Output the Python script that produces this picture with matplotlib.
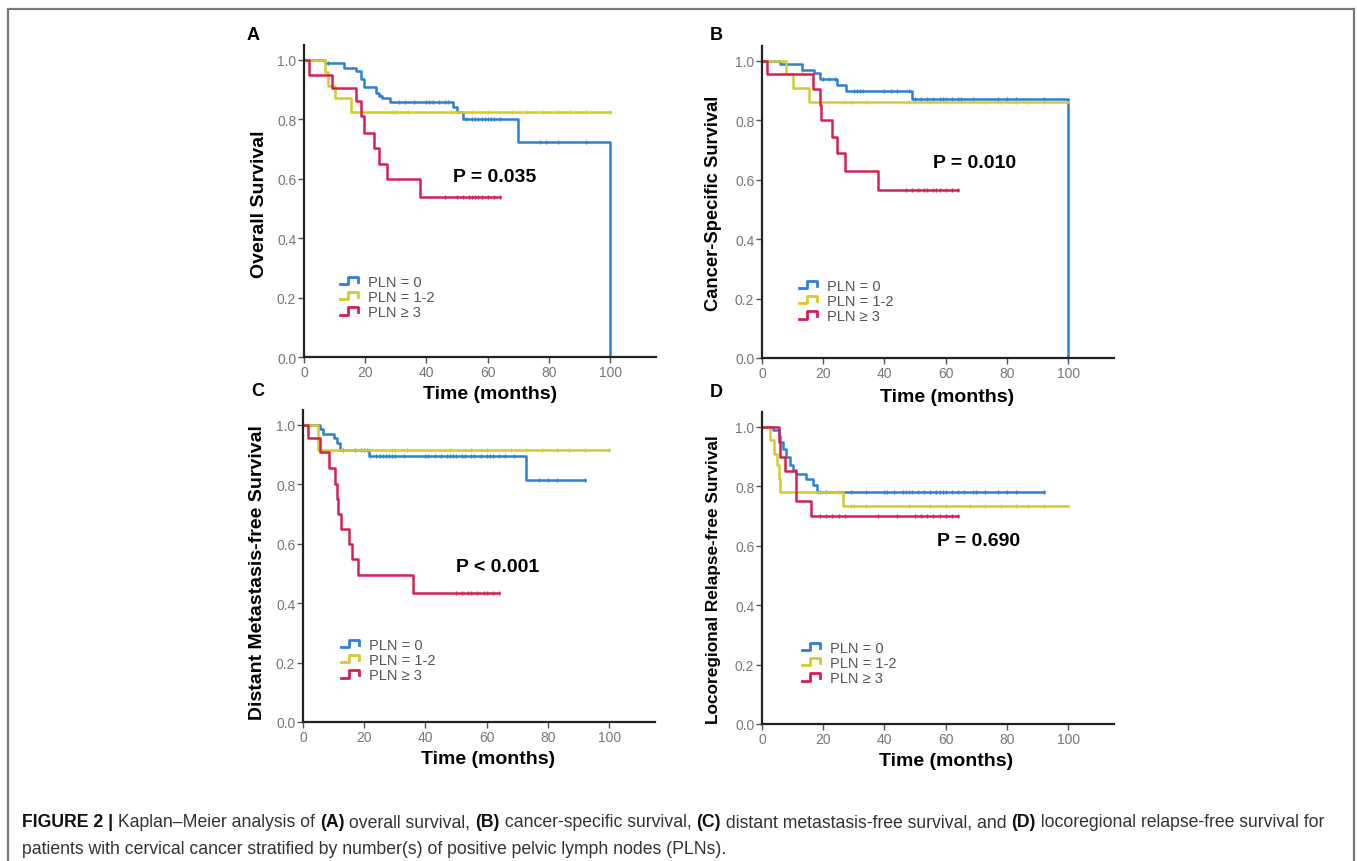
import numpy as np
import matplotlib
matplotlib.use("Agg")
import matplotlib.pyplot as plt
from matplotlib.legend_handler import HandlerBase
from matplotlib.lines import Line2D
from matplotlib.patches import Rectangle

W, H = 1357, 862

# ---------------- DATA ----------------
groups = ["PLN = 0", "PLN = 1-2", "PLN \u2265 3"]
colors = ["#2f7fd3", "#d3cc2c", "#d81f52"]

# Panel A - overall survival
A_t = [[0, 7, 13, 17, 18.5, 19.5, 23.5, 24.6, 25.4, 28, 48.8, 50, 52, 70, 100],
       [0, 7, 8, 10, 15.5, 100],
       [0, 1.5, 9, 17, 18.5, 19.5, 23, 24.5, 27, 38, 64]]
A_s = [[1, .989, .972, .963, .935, .907, .89, .88, .87, .857, .84, .825, .80, .725, 0],
       [1, .96, .913, .87, .825, .825],
       [1, .95, .905, .86, .81, .755, .705, .65, .60, .54, .54]]
A_c = [[8, 25, 31, 33, 36, 40, 41, 42, 44, 46, 47, 53, 55, 56, 57, 58, 59, 60, 61, 62, 64, 77, 79, 83, 92],
       [29, 30, 34, 48, 55, 60, 68, 73, 78, 83, 87, 92, 100],
       [46, 50, 52, 54, 55, 56, 57, 58, 60, 62, 64]]

# Panel B - cancer-specific survival
B_t = [[0, 6, 13, 17, 19, 24.5, 27.5, 49, 100],
       [0, 8, 10, 15.5, 100],
       [0, 1.5, 16.5, 18.8, 19.3, 23, 24.5, 27, 38, 64]]
B_s = [[1, .99, .97, .96, .94, .92, .90, .87, 0],
       [1, .955, .91, .86, .86],
       [1, .955, .905, .85, .80, .745, .69, .63, .565, .565]]
B_c = [[8, 13, 20, 22, 24, 30, 31, 32, 33, 40, 42, 44, 48, 50, 52, 54, 56, 58, 59, 60, 62, 64, 65, 69, 77, 80, 83, 92],
       [27, 29, 34, 48, 55, 60, 69, 73, 78, 83, 87, 92],
       [47, 49, 51, 53, 54, 56, 57, 58, 60, 62, 64]]

# Panel C - distant metastasis-free survival
C_t = [[0, 5.5, 6.5, 10, 11, 12, 21.5, 73, 92],
       [0, 5, 100],
       [0, 1.5, 5.5, 8.5, 10.5, 11, 11.5, 12.5, 15, 16, 18, 36, 64]]
C_s = [[1, .985, .97, .955, .94, .915, .895, .815, .815],
       [1, .915, .915],
       [1, .955, .91, .855, .80, .75, .70, .65, .60, .55, .495, .435, .435]]
C_c = [[13, 17, 19, 20, 21, 22, 24, 25, 26, 27, 28, 29, 30, 33, 40, 41, 43, 45, 47, 48, 49, 50, 52, 53,
        55, 56, 58, 60, 61, 62, 64, 66, 69, 77, 80, 83, 92],
       [29, 30, 34, 48, 55, 60, 68, 73, 78, 83, 87, 92, 100],
       [50, 52, 54, 55, 57, 59, 60, 62, 64]]

# Panel D - locoregional relapse-free survival
D_t = [[0, 3.5, 5.5, 6, 7, 8, 9, 10, 11, 14.5, 16.5, 18, 92],
       [0, 2.5, 4, 5, 5.5, 6, 26.5, 100],
       [0, 5.5, 6, 7.5, 11, 16, 64]]
D_s = [[1, .99, .97, .95, .925, .90, .87, .855, .84, .825, .805, .78, .78],
       [1, .955, .91, .87, .825, .78, .735, .735],
       [1, .95, .90, .85, .75, .70, .70]]
D_c = [[19, 21, 29, 34, 40, 41, 43, 46, 47, 48, 49, 51, 53, 55, 57, 58, 59, 60, 62, 64, 66, 69, 70, 73,
        77, 80, 83, 92],
       [25, 29, 30, 34, 48, 55, 60, 68, 73, 78, 83, 87, 92],
       [19, 21, 23, 25, 27, 38, 44, 50, 52, 54, 56, 58, 60, 62, 64]]

letters = ["A", "B", "C", "D"]
ylabels = ["Overall Survival", "Cancer-Specific Survival",
           "Distant Metastasis-free Survival", "Locoregional Relapse-free Survival"]
pvals = ["P = 0.035", "P = 0.010", "P < 0.001", "P = 0.690"]
xticks = [0, 20, 40, 60, 80, 100]
yticks = [0.0, 0.2, 0.4, 0.6, 0.8, 1.0]

# ---------------- LAYOUT (pixels) ----------------
ax_px = [(304, 358), (762, 359), (303, 723), (762, 725)]     # origin of each axes
ax_w, ax_h = 352, 312
letter_px = [(253, 36), (716, 35), (258, 392), (716, 393)]
xlab_px = [(490, 395), (947, 397), (488, 760), (946, 762)]
ylab_px = [(260, 204), (713, 203), (258, 573), (713, 580)]
ylab_size = [14, 13.2, 14, 12.4]
p_px = [(495, 177), (975, 163), (498, 567), (979, 541)]
leg_px = [(340, 298), (799, 302), (341, 661), (802, 664)]


class StepHandler(HandlerBase):
    def create_artists(self, legend, orig_handle, xdescent, ydescent, width, height, fontsize, trans):
        x0, y0 = -xdescent, -ydescent
        xs = [x0, x0 + 0.45 * width, x0 + 0.45 * width, x0 + width, x0 + width]
        ys = [y0 + 0.15 * height, y0 + 0.15 * height, y0 + 0.9 * height, y0 + 0.9 * height, y0 + 0.4 * height]
        ln = Line2D(xs, ys, color=orig_handle.get_color(), lw=2, transform=trans)
        return [ln]


plt.rcParams['font.family'] = ['Liberation Sans', 'DejaVu Sans']
fig = plt.figure(figsize=(W / 100, H / 100), dpi=100)

panels = [(A_t, A_s, A_c), (B_t, B_s, B_c), (C_t, C_s, C_c), (D_t, D_s, D_c)]
for i, (T, S, C) in enumerate(panels):
    ox, oy = ax_px[i]
    ax = fig.add_axes([ox / W, 1 - oy / H, ax_w / W, ax_h / H])
    handles = []
    for t, s, c, col, g in zip(T, S, C, colors, groups):
        ln, = ax.step(t, s, where='post', color=col, lw=1.8, label=g)
        idx = np.searchsorted(t, c, side='right') - 1
        cy = np.array(s)[idx]
        ax.plot(c, cy, ls='none', marker='|', ms=3, mew=0.9, color=col)
        handles.append(ln)
    ax.set_xlim(0, 115)
    ax.set_ylim(0, 1.05)
    ax.set_xticks(xticks)
    ax.set_yticks(yticks)
    ax.set_yticklabels(["%.1f" % v for v in yticks])
    for sp in ["top", "right"]:
        ax.spines[sp].set_visible(False)
    for sp in ["left", "bottom"]:
        ax.spines[sp].set_linewidth(1.6)
        ax.spines[sp].set_color("#222222")
    ax.tick_params(length=4, width=1, color="#555555", labelcolor="#777777", labelsize=10, pad=1.5)

    lx, ly = leg_px[i]
    ax.legend(handles, groups, handler_map={Line2D: StepHandler()}, frameon=False,
              loc='center left', bbox_to_anchor=(lx / W, 1 - ly / H), bbox_transform=fig.transFigure,
              fontsize=10.5, handlelength=1.25, handletextpad=0.7, labelspacing=0.09,
              borderpad=0, borderaxespad=0, labelcolor="#555555")

    fig.text(letter_px[i][0] / W, 1 - letter_px[i][1] / H, letters[i], fontsize=13,
             fontweight='bold', ha='center', va='center')
    fig.text(xlab_px[i][0] / W, 1 - xlab_px[i][1] / H, "Time (months)", fontsize=14,
             fontweight='bold', ha='center', va='center')
    fig.text(ylab_px[i][0] / W, 1 - ylab_px[i][1] / H, ylabels[i], fontsize=ylab_size[i],
             fontweight='bold', ha='center', va='center', rotation=90)
    fig.text(p_px[i][0] / W, 1 - p_px[i][1] / H, pvals[i], fontsize=14,
             fontweight='bold', ha='center', va='center')

# border around figure
fig.patches.append(Rectangle((8 / W, -0.05), (1354 - 8) / W, 1.05 - 10 / H, transform=fig.transFigure,
                             fill=False, edgecolor="#777777", lw=1.6, clip_on=False))

# caption
cap_font = ['Liberation Sans Narrow', 'Liberation Sans', 'DejaVu Sans']
line1 = [("FIGURE 2 |", True), (" Kaplan\u2013Meier analysis of ", False), ("(A)", True),
         (" overall survival, ", False), ("(B)", True), (" cancer-specific survival, ", False),
         ("(C)", True), (" distant metastasis-free survival, and ", False), ("(D)", True),
         (" locoregional relapse-free survival for", False)]
line2 = [("patients with cervical cancer stratified by number(s) of positive pelvic lymph nodes (PLNs).", False)]

renderer = fig.canvas.get_renderer()


def text_w(s, size, bold):
    t = fig.text(0, 0, s, fontsize=size, fontweight='bold' if bold else 'normal', family=cap_font)
    w = t.get_window_extent(renderer=renderer).width
    t.remove()
    return w


def piece_w(s, size, bold):
    # keep leading / trailing spaces in the measure
    sp = text_w("a a", size, bold) - text_w("aa", size, bold)
    core = s.strip()
    n_lead = len(s) - len(s.lstrip())
    n_trail = len(s) - len(s.rstrip())
    return text_w(core, size, bold) + sp * (n_lead + n_trail)


base = 10.0
total = sum(piece_w(s, base, b) for s, b in line1)
cap_size = base * (1335 - 22) / total


def draw_line(parts, x, y, size):
    for s, b in parts:
        fig.text(x / W, 1 - y / H, s, fontsize=size, fontweight='bold' if b else 'normal',
                 family=cap_font, ha='left', va='center', color="#111111" if b else "#333333")
        x += piece_w(s, size, b)


draw_line(line1, 22, 823, cap_size)
draw_line(line2, 22, 850, cap_size)

fig.savefig("out.png", dpi=100)
